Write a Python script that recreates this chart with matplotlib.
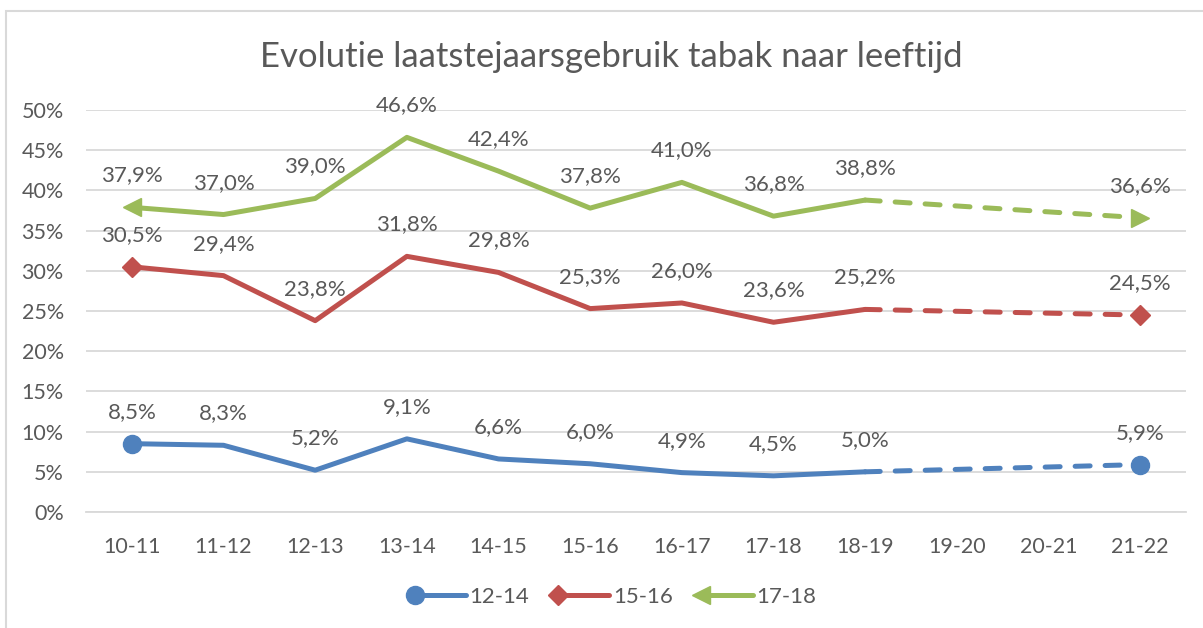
import numpy as np
import matplotlib.pyplot as plt
from matplotlib.lines import Line2D
from matplotlib.patches import Rectangle
from matplotlib.legend_handler import HandlerBase

plt.rcParams["font.family"] = ["Lato", "DejaVu Sans"]

# schooljaren
years = ["10-11", "11-12", "12-13", "13-14", "14-15", "15-16",
         "16-17", "17-18", "18-19", "19-20", "20-21", "21-22"]
# leeftijdsgroepen, laatstejaarsgebruik in %
age_12_14 = [8.5, 8.3, 5.2, 9.1, 6.6, 6.0, 4.9, 4.5, 5.0, np.nan, np.nan, 5.9]
age_15_16 = [30.5, 29.4, 23.8, 31.8, 29.8, 25.3, 26.0, 23.6, 25.2, np.nan, np.nan, 24.5]
age_17_18 = [37.9, 37.0, 39.0, 46.6, 42.4, 37.8, 41.0, 36.8, 38.8, np.nan, np.nan, 36.6]
labels = ["12-14", "15-16", "17-18"]

colors = ["#4F81BD", "#C0504D", "#9BBB59"]
first_marker = ["o", "D", "<"]
last_marker = ["o", "D", ">"]
msize = [13, 10, 13]
text_col = "#595959"


class LeftMarker(HandlerBase):
    # Excel style legend entry: marker at the left end of the line
    def create_artists(self, legend, orig_handle, xdescent, ydescent,
                       width, height, fontsize, trans):
        y = height / 2 - ydescent
        x0 = -xdescent + 6
        line = Line2D([x0, x0 + width - 6], [y, y], color=orig_handle.get_color(),
                      lw=orig_handle.get_linewidth(), solid_capstyle="round")
        mark = Line2D([x0], [y], marker=orig_handle.get_marker(),
                      color=orig_handle.get_color(), ms=orig_handle.get_markersize(),
                      ls="none")
        line.set_transform(trans)
        mark.set_transform(trans)
        return [line, mark]


fig = plt.figure(figsize=(12.03, 6.28), dpi=100)
ax = fig.add_axes([0.0715, 0.1847, 0.9144, 0.6401])

# chart border (only top/left visible in the crop)
fig.patches.append(Rectangle((6 / 1203, -0.1), 1.2, 1.1 - 11 / 628,
                             transform=fig.transFigure, fill=False,
                             edgecolor="#D9D9D9", lw=1.5, zorder=0))

x = np.arange(len(years))
series = [age_12_14, age_15_16, age_17_18]
handles = []
for i, vals in enumerate(series):
    v = np.array(vals, dtype=float)
    ok = ~np.isnan(v)
    idx = x[ok]
    last_solid = idx[-2]
    # solid part
    ax.plot(x[:last_solid + 1], v[:last_solid + 1], color=colors[i], lw=3.6,
            solid_joinstyle="round", solid_capstyle="round", zorder=3)
    # dashed part across missing years
    ax.plot([last_solid, idx[-1]], [v[last_solid], v[idx[-1]]], color=colors[i],
            lw=3.6, dashes=(3.0, 3.0), dash_capstyle="round", zorder=3)
    ax.plot(x[0], v[0], marker=first_marker[i], color=colors[i], ms=msize[i],
            mec=colors[i], zorder=4)
    ax.plot(x[idx[-1]], v[idx[-1]], marker=last_marker[i], color=colors[i],
            ms=msize[i], mec=colors[i], zorder=4)
    for xi in idx:
        ax.annotate(("%.1f%%" % v[xi]).replace(".", ","), (xi, v[xi]),
                    xytext=(0, 23), textcoords="offset points",
                    ha="center", va="center", fontsize=16, color=text_col)
    handles.append(Line2D([], [], color=colors[i], lw=3.6, marker=first_marker[i],
                          ms=msize[i]))

ax.set_xlim(-0.5, len(years) - 0.5)
ax.set_ylim(0, 50)
ax.set_yticks(np.arange(0, 51, 5))
ax.set_yticklabels(["%d%%" % t for t in range(0, 51, 5)])
ax.set_xticks(x)
ax.set_xticklabels(years)
ax.tick_params(axis="both", length=0, labelsize=15.5, colors=text_col)
ax.tick_params(axis="y", pad=16)
ax.tick_params(axis="x", pad=18)
ax.grid(axis="y", color="#D9D9D9", lw=1.3)
ax.set_axisbelow(True)
for s in ["top", "right", "left"]:
    ax.spines[s].set_visible(False)
ax.spines["bottom"].set_color("#D9D9D9")
ax.spines["bottom"].set_linewidth(1.3)

fig.text(0.508, 0.91, "Evolutie laatstejaarsgebruik tabak naar leeftijd",
         ha="center", va="center", fontsize=25, color=text_col)

leg = fig.legend(handles, labels, loc="center", bbox_to_anchor=(0.508, 0.049),
                 ncol=3, frameon=False, fontsize=16, handlelength=2.7,
                 columnspacing=0.9, handletextpad=0.15,
                 handler_map={Line2D: LeftMarker()})
for t in leg.get_texts():
    t.set_color(text_col)

fig.savefig("out.png", dpi=100)
